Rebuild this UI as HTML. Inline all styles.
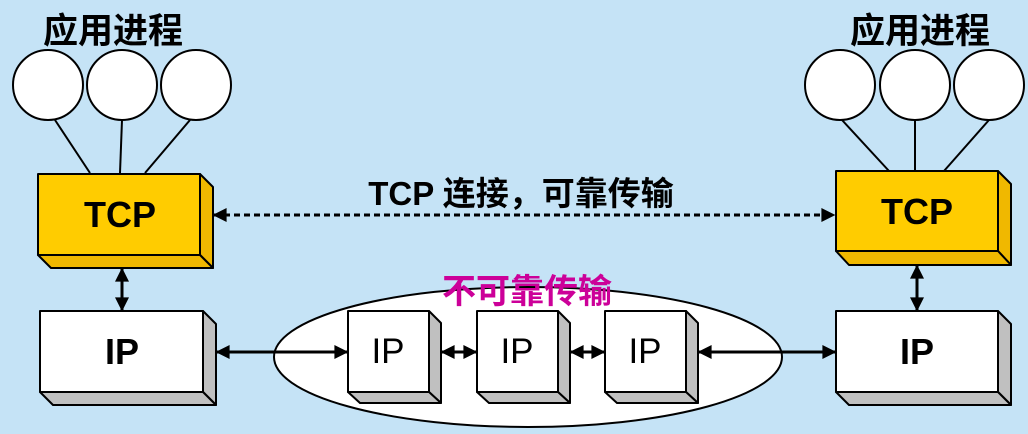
<!DOCTYPE html>
<html><head><meta charset="utf-8"><style>
body{margin:0;background:#c5e3f6;}
svg{display:block;}
text{font-family:"Liberation Sans","Noto Sans CJK SC",sans-serif;}
</style></head><body>
<svg width="1028" height="434" viewBox="0 0 1028 434" xmlns="http://www.w3.org/2000/svg">
<defs>
<marker id="a" viewBox="0 0 10 10" refX="9" refY="5" markerUnits="userSpaceOnUse" markerWidth="16" markerHeight="14" orient="auto-start-reverse"><path d="M0,0 L10,5 L0,10z" fill="#000"/></marker>
</defs>
<rect width="1028" height="434" fill="#c5e3f6"/>
<g font-weight="bold" font-size="35" text-anchor="middle" fill="#000">
<text x="113" y="43">应用进程</text>
<text x="920" y="43">应用进程</text>
</g>
<g stroke="#000" stroke-width="2" fill="#fff">
<circle cx="48" cy="85" r="35"/><circle cx="122" cy="85" r="35"/><circle cx="196" cy="85" r="35"/>
<circle cx="840" cy="85" r="35"/><circle cx="915" cy="85" r="35"/><circle cx="989" cy="85" r="35"/>
<line x1="55" y1="120" x2="90" y2="173"/><line x1="122" y1="120" x2="120" y2="173"/><line x1="190" y1="120" x2="145" y2="173"/>
<line x1="842" y1="120" x2="889" y2="171"/><line x1="915" y1="120" x2="915" y2="171"/><line x1="989" y1="120" x2="944" y2="171"/>
</g>
<g stroke="#000" stroke-width="2" stroke-linejoin="round">
<path d="M200,174 L213,187 L213,268 L200,255z" fill="#f0b800"/>
<path d="M38,255 L200,255 L213,268 L51,268z" fill="#f0b800"/>
<rect x="38" y="174" width="162" height="81" fill="#ffcc00"/>
<path d="M998,171 L1011,184 L1011,265 L998,251z" fill="#f0b800"/>
<path d="M836,251 L998,251 L1011,265 L849,265z" fill="#f0b800"/>
<rect x="836" y="171" width="162" height="80" fill="#ffcc00"/>
</g>
<ellipse cx="528" cy="357" rx="254" ry="70" fill="#fff" stroke="#000" stroke-width="2"/>
<g stroke="#000" stroke-width="2" stroke-linejoin="round">
<path d="M203,311 L216,324 L216,405 L203,392z" fill="#c0c0c0"/>
<path d="M40,392 L203,392 L216,405 L53,405z" fill="#c0c0c0"/>
<rect x="40" y="311" width="163" height="81" fill="#fff"/>
<path d="M998,311 L1011,324 L1011,405 L998,392z" fill="#c0c0c0"/>
<path d="M836,392 L998,392 L1011,405 L849,405z" fill="#c0c0c0"/>
<rect x="836" y="311" width="162" height="81" fill="#fff"/>
<path d="M429,311 L441,323 L441,403 L429,392z" fill="#c0c0c0"/>
<path d="M348,392 L429,392 L441,403 L360,403z" fill="#c0c0c0"/>
<rect x="348" y="311" width="81" height="81" fill="#fff"/>
<path d="M558,311 L570,323 L570,403 L558,392z" fill="#c0c0c0"/>
<path d="M477,392 L558,392 L570,403 L489,403z" fill="#c0c0c0"/>
<rect x="477" y="311" width="81" height="81" fill="#fff"/>
<path d="M686,311 L698,323 L698,403 L686,392z" fill="#c0c0c0"/>
<path d="M605,392 L686,392 L698,403 L617,403z" fill="#c0c0c0"/>
<rect x="605" y="311" width="81" height="81" fill="#fff"/>
</g>
<g stroke="#000" stroke-width="3" marker-start="url(#a)" marker-end="url(#a)">
<line x1="122" y1="269" x2="122" y2="310"/>
<line x1="917" y1="266" x2="917" y2="310"/>
<line x1="217" y1="352" x2="347" y2="352"/>
<line x1="442" y1="352" x2="476" y2="352"/>
<line x1="571" y1="352" x2="604" y2="352"/>
<line x1="699" y1="352" x2="835" y2="352"/>
<line x1="214" y1="215" x2="834" y2="215" stroke-dasharray="6,4"/>
</g>
<g text-anchor="middle" fill="#000">
<text x="120" y="227" font-size="36" font-weight="bold">TCP</text>
<text x="917" y="224" font-size="36" font-weight="bold">TCP</text>
<text x="122" y="364" font-size="36" font-weight="bold">IP</text>
<text x="917" y="364" font-size="36" font-weight="bold">IP</text>
<text x="388" y="363" font-size="35">IP</text>
<text x="517" y="363" font-size="35">IP</text>
<text x="645" y="363" font-size="35">IP</text>
<text x="521" y="205" font-size="33" font-weight="bold">TCP 连接，可靠传输</text>
<text x="527" y="303" font-size="34" font-weight="bold" fill="#cc0099">不可靠传输</text>
</g>
</svg>
</body></html>
